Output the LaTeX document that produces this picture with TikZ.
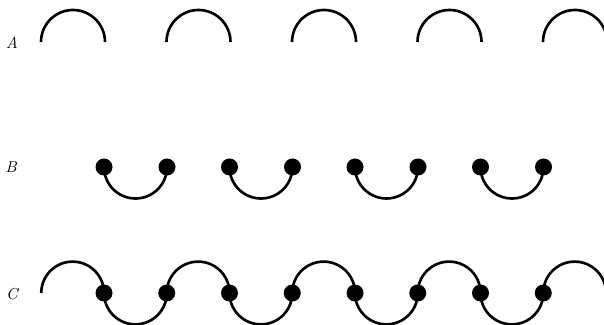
\documentclass[tikz,border=0pt]{standalone}
\usepackage{tikz}
\usetikzlibrary{positioning}
\tikzset{
    % thick strand, flat ends
    strand/.style={
        line width=1.5pt,
        color=black
    },
    bead/.style={
        circle,
        fill=black,
        draw=none,
        inner sep=0pt,
        minimum size=0.34cm
    },
    rowlabel/.style={
        font=\small\itshape,
        inner sep=0pt
    }
}
\begin{document}
\begin{tikzpicture}[x=0.02cm, y=0.02cm]
    \useasboundingbox (0,0) rectangle (604,324);
    % row labels
    \node[rowlabel] (labA) at (12,281) {A};
    \node[rowlabel] (labB) at (11,157) {B};
    \node[rowlabel] (labC) at (12,30) {C};
    % row A: open arcs
    \foreach \k in {0,...,4} {
        \coordinate (a\k) at (41+125.5*\k,282);
        \draw[strand] (a\k) arc[start angle=180, end angle=0, radius=32];
    }
    % row B: beads joined below
    \foreach \k in {0,...,3} {
        \node[bead] (bl\k) at (104+125.5*\k,157) {};
        \node[bead] (br\k) at (167+125.5*\k,157) {};
        \draw[strand] (bl\k.center) arc[start angle=180, end angle=360, radius=31.5];
    }
    % row C: arcs above and below
    \foreach \k in {0,...,4} {
        \coordinate (u\k) at (41.25+125.5*\k,31);
        \draw[strand] (u\k) arc[start angle=180, end angle=0, radius=31.375];
    }
    \foreach \j in {0,...,7} {
        \node[bead] (c\j) at (104+62.75*\j,31) {};
    }
    \foreach \k in {0,...,3} {
        \pgfmathtruncatemacro{\m}{2*\k}
        \draw[strand] (c\m.center) arc[start angle=180, end angle=360, radius=31.375];
    }
\end{tikzpicture}
\end{document}
